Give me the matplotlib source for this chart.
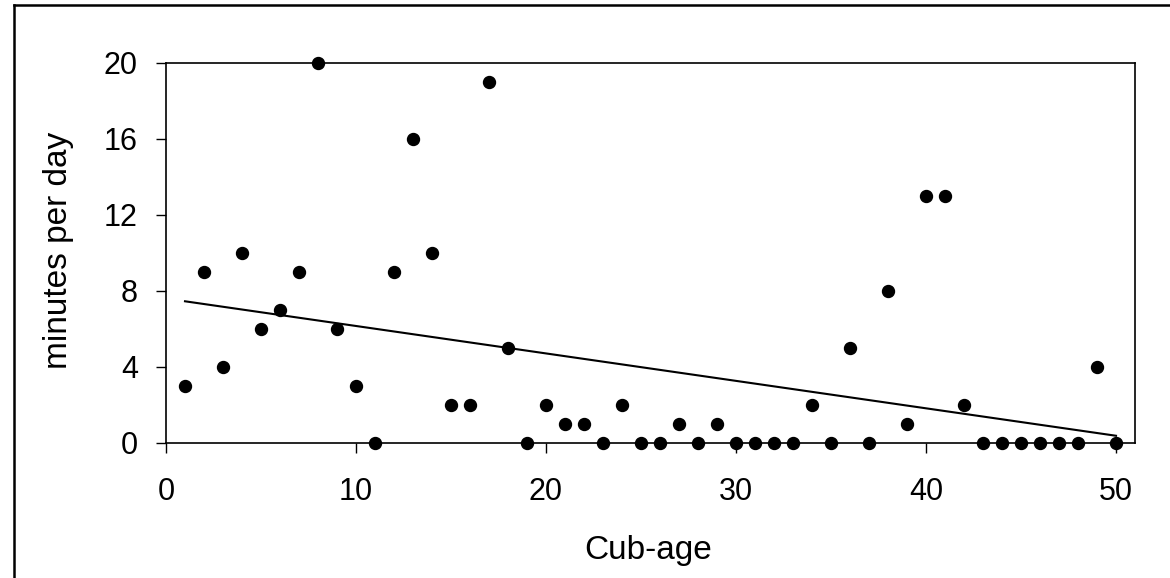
import numpy as np
import matplotlib
matplotlib.use("Agg")
import matplotlib.pyplot as plt
from matplotlib.lines import Line2D

cub_age = list(range(1, 51))
minutes = [3, 9, 4, 10, 6, 7, 9, 20, 6, 3,
           0, 9, 16, 10, 2, 2, 19, 5, 0, 2,
           1, 1, 0, 2, 0, 0, 1, 0, 1, 0,
           0, 0, 0, 2, 0, 5, 0, 8, 1, 13,
           13, 2, 0, 0, 0, 0, 0, 0, 4, 0]
x_ticks = [0, 10, 20, 30, 40, 50]
y_ticks = [0, 4, 8, 12, 16, 20]

plt.rcParams['font.family'] = ['Liberation Sans', 'DejaVu Sans']

W, H = 1170, 578
fig = plt.figure(figsize=(W / 100, H / 100), dpi=100)
ax = fig.add_axes([166 / W, 1 - 443 / H, (1135 - 166) / W, (443 - 63) / H])

x = np.array(cub_age, dtype=float)
y = np.array(minutes, dtype=float)
slope, intercept = np.polyfit(x, y, 1)
xl = np.array([x.min(), x.max()])
ax.plot(xl, slope * xl + intercept, color='black', lw=1.5, zorder=2)
ax.plot(x, y, 'o', color='black', ms=8.6, clip_on=False, zorder=3)

ax.set_xlim(0, 51)
ax.set_ylim(0, 20)
ax.set_xticks(x_ticks)
ax.set_yticks(y_ticks)
ax.tick_params(direction='out', length=7.2, width=1, labelsize=22)
ax.tick_params(axis='y', pad=13)
ax.tick_params(axis='x', pad=17)
for s in ax.spines.values():
    s.set_linewidth(1.2)

fig.text(648 / W, 1 - 550 / H, 'Cub-age', fontsize=24, ha='center', va='center')
fig.text(58 / W, 1 - 250 / H, 'minutes per day', fontsize=24, ha='center', va='center',
         rotation=90)

# outer frame (left and top edges visible)
fig.add_artist(Line2D([14 / W, 14 / W], [0, 1 - 5 / H], transform=fig.transFigure, color='black', lw=1.8))
fig.add_artist(Line2D([14 / W, 1], [1 - 5 / H, 1 - 5 / H], transform=fig.transFigure, color='black', lw=1.8))

fig.savefig('out.png', dpi=100)
